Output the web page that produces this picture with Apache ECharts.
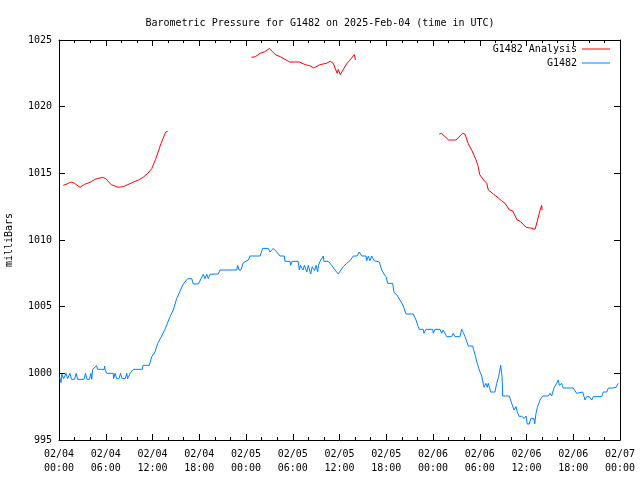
<!DOCTYPE html>
<html><head><meta charset="utf-8">
<script src="https://cdn.jsdelivr.net/npm/echarts@6/dist/echarts.min.js"></script>
<style>html,body{margin:0;padding:0;background:#fff}#c{width:640px;height:480px}</style>
</head><body><div id="c"></div>
<script>
// Hours since 02/04 00:00 UTC
const xTickLabels = ['02/04\n00:00','02/04\n06:00','02/04\n12:00','02/04\n18:00','02/05\n00:00','02/05\n06:00','02/05\n12:00','02/05\n18:00','02/06\n00:00','02/06\n06:00','02/06\n12:00','02/06\n18:00','02/07\n00:00'];

// G1482 Analysis (null = gap)
const analysisHours = [0.55,1.0,1.54,2.0,2.7,3.3,4.0,4.6,5.6,6.0,6.7,7.6,8.25,9.5,10.2,10.8,11.4,11.9,12.4,13.1,13.7,13.95,
  19,
  24.7,25.2,25.8,26.4,27.0,27.4,27.85,28.4,29.0,29.6,30.85,31.6,32.2,32.7,33.5,34.3,34.8,35.2,35.7,35.85,36.1,36.9,37.35,37.9,38.05,
  43,
  48.8,49.1,50.0,50.4,50.6,50.96,51.8,52.1,52.5,53.0,53.2,53.5,53.8,54.0,54.5,54.9,55.0,55.1,55.75,56.8,57.25,57.8,58.2,58.8,59.2,59.95,60.5,61.1,61.4,61.75,61.95,62.0];
const analysisValues = [1014.1,1014.2,1014.35,1014.25,1013.95,1014.18,1014.33,1014.55,1014.7,1014.6,1014.15,1013.95,1014.0,1014.33,1014.5,1014.7,1015.0,1015.35,1016.05,1017.25,1018.1,1018.15,
  null,
  1023.7,1023.75,1024.0,1024.12,1024.37,1024.12,1023.87,1023.75,1023.55,1023.35,1023.35,1023.15,1023.07,1022.9,1023.15,1023.25,1023.4,1023.25,1022.5,1022.8,1022.4,1023.2,1023.5,1023.9,1023.5,
  null,
  1017.95,1018.0,1017.5,1017.5,1017.55,1017.5,1018.0,1017.95,1017.25,1016.7,1016.8,1016.05,1015.5,1014.9,1014.5,1014.25,1014.3,1013.75,1013.45,1012.95,1012.75,1012.25,1012.2,1011.5,1011.4,1010.95,1010.9,1010.8,1011.45,1012.25,1012.6,1012.25];

// G1482 station
const stationHours = [0.1,0.26,0.35,0.6,0.9,1.1,1.4,1.6,2.0,2.2,2.4,3.2,3.4,3.6,3.9,4.1,4.2,4.32,4.84,4.94,5.81,5.85,5.9,6.12,6.97,
  7.0,7.2,7.4,7.7,7.9,8.1,8.5,8.7,8.8,9.0,9.11,9.54,10.69,10.78,11.59,11.9,12.32,12.67,13.09,13.6,14.25,14.67,15.1,15.95,16.52,17.03,17.24,17.88,
  18.52,18.74,18.96,19.16,19.38,20.45,20.66,22.81,22.93,23.1,23.36,23.65,24.3,24.51,25.8,26.14,26.86,27.08,27.5,27.94,28.36,28.92,29.0,29.65,29.74,29.9,30.71,30.84,
  31.0,31.3,31.5,31.8,32.0,32.3,32.5,32.8,33.0,33.2,33.3,33.5,33.92,34.0,34.56,35.0,35.42,35.85,36.06,36.49,36.92,37.35,37.77,38.25,38.54,38.85,39.4,39.49,39.7,39.91,40.13,40.43,41.11,41.42,41.71,41.97,42.19,42.83,
  43.0,43.34,43.76,44.19,44.53,45.47,45.82,46.11,46.24,46.75,46.84,47.1,47.96,48.04,48.25,48.9,49.12,49.32,49.76,50.4,50.6,50.82,51.46,51.68,51.89,52.11,52.53,53.09,53.39,53.68,53.94,54.25,54.55,54.8,54.97,55.1,55.4,55.95,56.17,56.43,56.69,56.86,56.94,
  57.79,58.1,58.4,58.65,58.82,59.08,59.38,59.68,59.93,60.1,60.36,60.54,60.96,61.05,61.22,61.39,61.73,62.08,62.8,63.01,63.23,63.53,63.87,64.08,64.21,64.52,64.7,65.16,66.0,66.44,66.65,67.21,67.51,67.73,68.06,68.37,68.57,69.65,69.86,70.3,70.5,70.75,71.06,71.49,71.78];
const stationValues = [999.7,999.3,999.95,999.6,1000.0,999.6,1000.0,999.55,999.55,1000.0,999.55,999.55,1000.0,999.55,999.55,1000.0,999.55,1000.3,1000.57,1000.3,1000.3,1000.55,1000.3,1000.0,1000.0,
  999.6,1000.0,999.6,999.6,1000.0,999.6,999.6,1000.0,999.6,999.8,1000.0,1000.3,1000.3,1000.6,1000.6,1001.25,1001.6,1002.25,1002.7,1003.3,1004.25,1004.75,1005.6,1006.7,1007.1,1007.1,1006.7,1006.7,
  1007.43,1007.1,1007.43,1007.1,1007.43,1007.45,1007.75,1007.75,1008.1,1007.75,1007.75,1008.3,1008.5,1008.8,1008.8,1009.37,1009.37,1009.1,1009.37,1009.1,1008.8,1008.8,1008.4,1008.4,1008.1,1008.4,1008.4,1007.75,
  1008.1,1007.75,1008.1,1007.6,1008.1,1007.45,1008.0,1007.7,1008.1,1007.6,1008.1,1008.4,1008.8,1008.4,1008.4,1008.1,1007.75,1007.45,1007.65,1008.0,1008.25,1008.45,1008.8,1008.8,1009.1,1008.8,1008.8,1008.45,1008.8,1008.45,1008.8,1008.45,1008.35,1007.75,1007.45,1007.25,1006.75,1006.75,
  1006.05,1005.9,1005.5,1005.05,1004.45,1004.45,1004.0,1003.5,1003.3,1003.3,1003.0,1003.3,1003.3,1003.0,1003.3,1003.3,1003.0,1003.25,1002.75,1002.75,1003.0,1002.75,1002.75,1003.3,1003.05,1002.75,1002.05,1002.05,1001.4,1000.75,1000.25,999.8,998.95,999.25,998.95,999.25,998.6,998.6,999.25,999.75,1000.6,999.75,998.3,
  998.3,997.75,997.25,997.5,997.1,996.75,996.8,996.6,996.8,996.2,996.2,996.6,996.6,996.2,997.0,997.45,998.0,998.3,998.3,998.5,998.3,998.9,999.25,999.5,999.1,999.25,998.9,998.9,998.9,998.5,998.6,998.6,998.0,998.25,998.25,998.0,998.25,998.25,998.6,998.6,998.9,998.75,998.9,998.95,999.25];

const FONT = '"DejaVu Sans Mono", "Liberation Mono", monospace';
const pair = (hs, vs) => hs.map((h, i) => [h, vs[i]]);

const chart = echarts.init(document.getElementById('c'), null, {renderer: 'canvas'});
const axisBase = {
  type: 'value', min: 0, max: 72, interval: 6,
  axisLine: {show: true, onZero: false, lineStyle: {color: '#000', width: 1}},
  axisTick: {show: true, inside: true, length: 6, lineStyle: {color: '#000'}},
  minorTick: {show: true, splitNumber: 3, length: 3, lineStyle: {color: '#000'}},
  splitLine: {show: false}, minorSplitLine: {show: false}
};
const yBase = {
  type: 'value', min: 995, max: 1025, interval: 5, scale: true,
  axisLine: {show: true, onZero: false, lineStyle: {color: '#000', width: 1}},
  axisTick: {show: true, inside: true, length: 6, lineStyle: {color: '#000'}},
  splitLine: {show: false}
};
chart.setOption({
  animation: false,
  backgroundColor: '#fff',
  title: {
    text: 'Barometric Pressure for G1482 on 2025-Feb-04 (time in UTC)',
    left: 'center', top: 13,
    textStyle: {fontFamily: FONT, fontSize: 10, fontWeight: 'normal', color: '#000'}
  },
  legend: {
    orient: 'vertical', right: 25, top: 38, align: 'right',
    itemWidth: 28, itemHeight: 1, itemGap: 2,
    icon: 'rect',
    textStyle: {fontFamily: FONT, fontSize: 10, color: '#000', lineHeight: 12},
    data: ['G1482 Analysis', 'G1482']
  },
  grid: {left: 59, right: 20, top: 40, bottom: 40, containLabel: false, outerBoundsMode: 'none'},
  xAxis: [
    Object.assign({}, axisBase, {position: 'bottom',
      axisLabel: {show: true, color: '#000', fontFamily: FONT, fontSize: 10, lineHeight: 14, margin: 7,
        formatter: v => xTickLabels[Math.round(v / 6)] || ''}}),
    Object.assign({}, axisBase, {position: 'top', axisLabel: {show: false}})
  ],
  yAxis: [
    Object.assign({}, yBase, {position: 'left', name: 'milliBars', nameLocation: 'middle', nameGap: 45, nameRotate: 90,
      nameTextStyle: {fontFamily: FONT, fontSize: 10, color: '#000'},
      axisLabel: {show: true, color: '#000', fontFamily: FONT, fontSize: 10, margin: 7, formatter: v => String(v)}}),
    Object.assign({}, yBase, {position: 'right', axisLabel: {show: false}})
  ],
  series: [
    {name: 'G1482 Analysis', type: 'line', data: pair(analysisHours, analysisValues), showSymbol: false, symbol: 'none',
      connectNulls: false, lineStyle: {color: '#ff0000', width: 1}, itemStyle: {color: '#ff0000'}},
    {name: 'G1482', type: 'line', data: pair(stationHours, stationValues), showSymbol: false, symbol: 'none',
      lineStyle: {color: '#0080ff', width: 1}, itemStyle: {color: '#0080ff'}}
  ]
});
</script></body></html>
